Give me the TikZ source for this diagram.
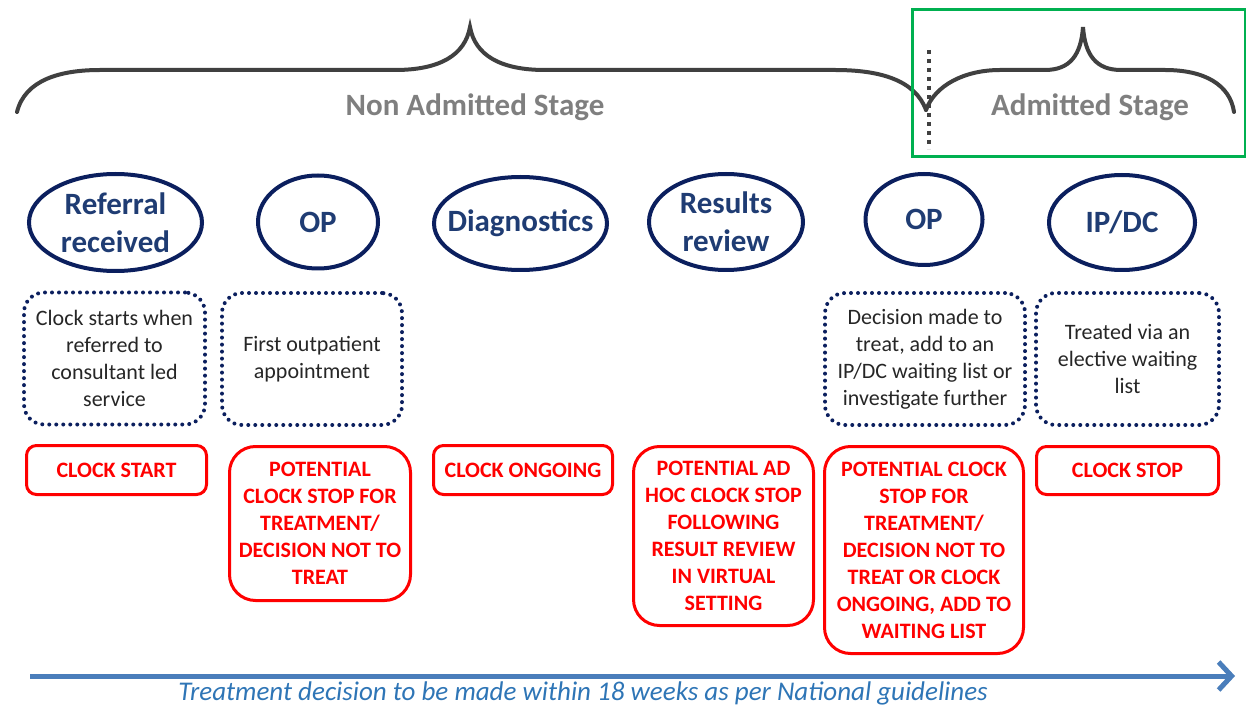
\documentclass[tikz,border=0pt]{standalone}
\usepackage{fontspec}
\setmainfont{Carlito}
\usetikzlibrary{shapes.geometric,arrows.meta}
\definecolor{navy}{HTML}{0B1F5E}
\definecolor{navytext}{HTML}{1F3C73}
\definecolor{bracegrey}{HTML}{404040}
\definecolor{stagegrey}{HTML}{7F7F7F}
\definecolor{boxred}{HTML}{FF0000}
\definecolor{arrowblue}{HTML}{4A7EBB}
\definecolor{captionblue}{HTML}{2E75B6}
\definecolor{notetext}{HTML}{262626}
\definecolor{admitgreen}{HTML}{00B050}
\begin{document}
\begin{tikzpicture}[x=1pt,y=-1pt,
  stage/.style={ellipse, draw=navy, line width=4pt, inner sep=-20pt, align=center,
    font=\bfseries\fontsize{31}{38}\selectfont, text=navytext},
  note/.style={draw=navy, line width=4pt, dash pattern=on 0pt off 7pt, line cap=round,
    rounded corners=20pt, inner sep=0pt, align=center,
    font=\fontsize{22}{27}\selectfont, text=notetext},
  clock/.style={draw=boxred, line width=3pt, inner sep=0pt, align=center,
    font=\bfseries\fontsize{22}{27}\selectfont, text=boxred},
  brace/.style={draw=bracegrey, line width=4pt, line cap=round},
  stagelabel/.style={font=\bfseries\fontsize{31}{38}\selectfont, text=stagegrey},
]
\useasboundingbox (0,0) rectangle (1246,708);

% stage braces
\draw[brace] (17,112) .. controls (25,80) and (60,70) .. (100,70) -- (395,70)
  .. controls (440,70) and (465,55) .. (470,27)
  .. controls (475,55) and (500,70) .. (545,70) -- (835,70)
  .. controls (880,70) and (915,80) .. (926,110);
\draw[brace] (926,110) .. controls (935,85) and (965,70) .. (1000,70) -- (1045,70)
  .. controls (1070,70) and (1081,55) .. (1083,27)
  .. controls (1085,55) and (1096,70) .. (1121,70) -- (1165,70)
  .. controls (1205,70) and (1230,85) .. (1234,112);

% admitted stage frame and divider
\draw[admitgreen, line width=3pt] (912,10) rectangle (1245,157);
\draw[bracegrey, line width=4pt, dash pattern=on 4pt off 5pt] (929,50) -- (929,149);

\node[stagelabel] (nonadm) at (475,107) {Non Admitted Stage};
\node[stagelabel] (adm) at (1090,107) {Admitted Stage};

% stages
\node[stage, minimum width=173pt, minimum height=97pt] (s1) at (115.5,222.5) {Referral\\received};
\node[stage, minimum width=120pt, minimum height=93pt] (s2) at (318,222) {OP};
\node[stage, minimum width=173pt, minimum height=93pt] (s3) at (520.5,223.5) {Diagnostics};
\node[stage, minimum width=154pt, minimum height=96pt] (s4) at (726,222) {Results\\review};
\node[stage, minimum width=117pt, minimum height=91pt] (s5) at (924,219.5) {OP};
\node[stage, minimum width=146pt, minimum height=95pt] (s6) at (1122,222.5) {IP/DC};

% descriptions
\node[note, minimum width=181pt, minimum height=132pt] (n1) at (114.5,358.5)
  {Clock starts when\\referred to\\consultant led\\service};
\node[note, minimum width=180pt, minimum height=132pt] (n2) at (312,359)
  {First outpatient\\appointment};
\node[note, minimum width=200pt, minimum height=132pt] (n5) at (925,359)
  {Decision made to\\treat, add to an\\IP/DC waiting list or\\investigate further};
\node[note, minimum width=183pt, minimum height=132pt] (n6) at (1127.5,359)
  {Treated via an\\elective waiting\\list};

% clock status
\node[clock, rounded corners=10pt, minimum width=180pt, minimum height=49pt] (c1) at (116.5,470)
  {CLOCK START};
\node[clock, rounded corners=26pt, minimum width=181pt, minimum height=154pt] (c2) at (320,523.5)
  {POTENTIAL\\CLOCK STOP FOR\\TREATMENT/\\DECISION NOT TO\\TREAT};
\node[clock, rounded corners=10pt, minimum width=179pt, minimum height=49pt] (c3) at (523,470)
  {CLOCK ONGOING};
\node[clock, rounded corners=26pt, minimum width=180pt, minimum height=179pt] (c4) at (723.5,536)
  {POTENTIAL AD\\HOC CLOCK STOP\\FOLLOWING\\RESULT REVIEW\\IN VIRTUAL\\SETTING};
\node[clock, rounded corners=26pt, minimum width=199pt, minimum height=207pt] (c5) at (924,550)
  {POTENTIAL CLOCK\\STOP FOR\\TREATMENT/\\DECISION NOT TO\\TREAT OR CLOCK\\ONGOING, ADD TO\\WAITING LIST};
\node[clock, rounded corners=10pt, minimum width=182pt, minimum height=48pt] (c6) at (1127.5,470.5)
  {CLOCK STOP};

% timeline
\coordinate (tstart) at (30,676);
\coordinate (tend) at (1235,676);
\draw[arrowblue, line width=5pt, -{Straight Barb[length=13pt,width=28pt,line width=5pt]}] (tstart) -- (tend);
\node[anchor=base, text=captionblue, font=\itshape\fontsize{27}{32}\selectfont] (caption) at (583,700)
  {Treatment decision to be made within 18 weeks as per National guidelines};
\end{tikzpicture}
\end{document}
